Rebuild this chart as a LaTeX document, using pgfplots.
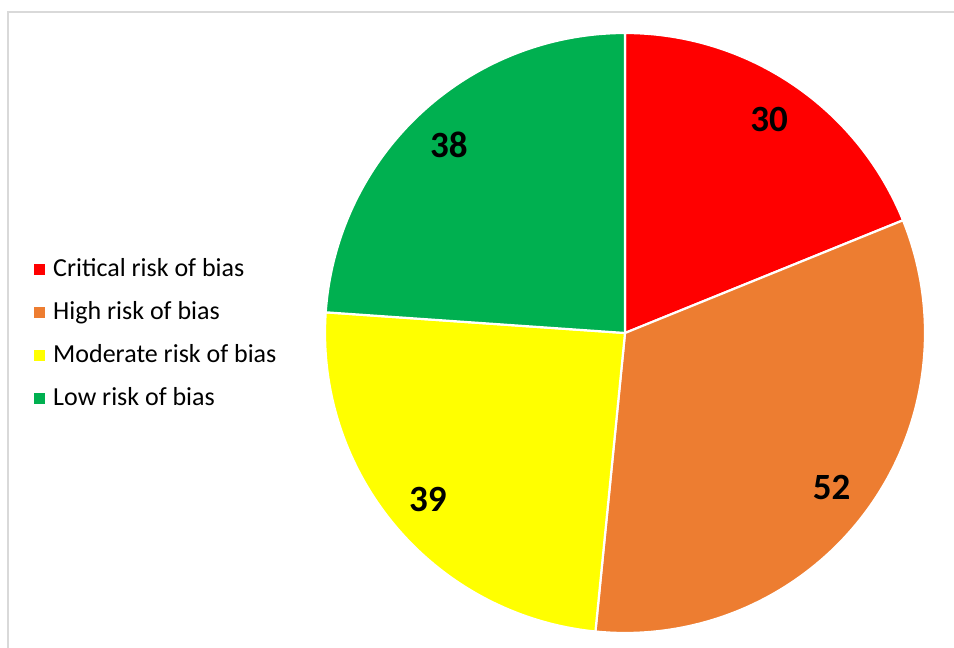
\documentclass[border=0pt]{standalone}
\usepackage{pgfplots}
\pgfplotsset{compat=1.18}
\usepackage{pgfplotstable}
\usepackage{fontspec}
\setmainfont{Carlito}
\definecolor{cCrit}{HTML}{FF0000}
\definecolor{cHigh}{HTML}{ED7D31}
\definecolor{cMod}{HTML}{FFFF00}
\definecolor{cLow}{HTML}{00B050}
\definecolor{cFrame}{HTML}{D9D9D9}
\pgfplotstableread{
label value
Critical 30
High 52
Moderate 39
Low 38
}\piedata
\pgfplotstablegetelem{0}{value}\of\piedata\pgfmathtruncatemacro\va{\pgfplotsretval}
\pgfplotstablegetelem{1}{value}\of\piedata\pgfmathtruncatemacro\vb{\pgfplotsretval}
\pgfplotstablegetelem{2}{value}\of\piedata\pgfmathtruncatemacro\vc{\pgfplotsretval}
\pgfplotstablegetelem{3}{value}\of\piedata\pgfmathtruncatemacro\vd{\pgfplotsretval}
\pgfmathsetmacro\tot{\va+\vb+\vc+\vd}
\pgfmathsetmacro\aA{90}
\pgfmathsetmacro\aB{\aA-\va/\tot*360}
\pgfmathsetmacro\aC{\aB-\vb/\tot*360}
\pgfmathsetmacro\aD{\aC-\vc/\tot*360}
\pgfmathsetmacro\aE{\aD-\vd/\tot*360}
\pgfmathsetmacro\mA{(\aA+\aB)/2}
\pgfmathsetmacro\mB{(\aB+\aC)/2}
\pgfmathsetmacro\mC{(\aC+\aD)/2}
\pgfmathsetmacro\mD{(\aD+\aE)/2}
\def\cx{625}\def\cy{315}\def\R{300}\def\rl{258}
\begin{document}%
\begin{tikzpicture}
\begin{axis}[
  scale only axis, width=954pt, height=648pt,
  xmin=0, xmax=954, ymin=0, ymax=648,
  hide axis, clip=false, xtick=\empty, ytick=\empty,
  legend style={draw=none, fill=none, at={(rel axis cs:0.0325,0.608)}, anchor=north west,
    font=\fontsize{26}{31}\selectfont, row sep=16pt, column sep=0pt,
    nodes={text height=19pt, text depth=6pt, inner sep=1pt}},
  legend cell align=left,
  legend image code/.code={\fill[#1, draw=none] (0pt,-5.5pt) rectangle (11pt,5.5pt); \path[draw=none, fill=none] (0pt,0pt) -- (18pt,0pt);},
]
\addplot[fill=cCrit, draw=white, line width=2.2pt, domain=\aB:\aA, samples=100, variable=\t]
  ({\cx+\R*cos(\t)},{\cy+\R*sin(\t)}) -- (axis cs:\cx,\cy) -- cycle;
\addlegendentry{Critical risk of bias}
\addplot[fill=cHigh, draw=white, line width=2.2pt, domain=\aC:\aB, samples=100, variable=\t]
  ({\cx+\R*cos(\t)},{\cy+\R*sin(\t)}) -- (axis cs:\cx,\cy) -- cycle;
\addlegendentry{High risk of bias}
\addplot[fill=cMod, draw=white, line width=2.2pt, domain=\aD:\aC, samples=100, variable=\t]
  ({\cx+\R*cos(\t)},{\cy+\R*sin(\t)}) -- (axis cs:\cx,\cy) -- cycle;
\addlegendentry{Moderate risk of bias}
\addplot[fill=cLow, draw=white, line width=2.2pt, domain=\aE:\aD, samples=100, variable=\t]
  ({\cx+\R*cos(\t)},{\cy+\R*sin(\t)}) -- (axis cs:\cx,\cy) -- cycle;
\addlegendentry{Low risk of bias}
\node[font=\fontsize{37}{42}\selectfont\bfseries] at (axis cs:{\cx+\rl*cos(\mA)},{\cy+\rl*sin(\mA)}) {\va};
\node[font=\fontsize{37}{42}\selectfont\bfseries] at (axis cs:{\cx+\rl*cos(\mB)},{\cy+\rl*sin(\mB)}) {\vb};
\node[font=\fontsize{37}{42}\selectfont\bfseries] at (axis cs:{\cx+\rl*cos(\mC)},{\cy+\rl*sin(\mC)}) {\vc};
\node[font=\fontsize{37}{42}\selectfont\bfseries] at (axis cs:{\cx+\rl*cos(\mD)},{\cy+\rl*sin(\mD)}) {\vd};
\draw[cFrame, line width=2pt] (axis cs:8,0) -- (axis cs:8,636) -- (axis cs:954,636);
\end{axis}
\pgfresetboundingbox
\useasboundingbox (current axis.south west) rectangle (current axis.north east);
\end{tikzpicture}%
\end{document}
